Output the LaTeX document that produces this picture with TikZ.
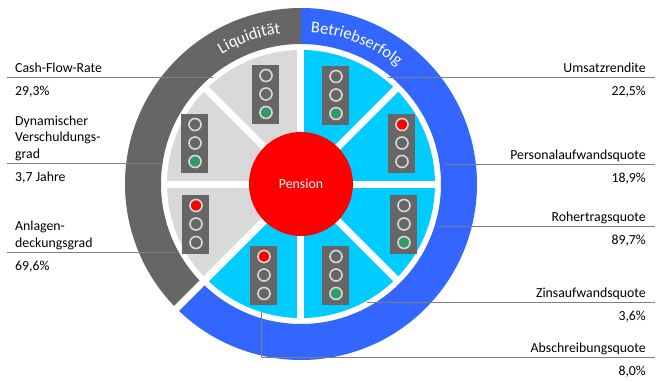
\documentclass[tikz,border=0pt]{standalone}
\usepackage{fontspec}
\setmainfont{Carlito}
\usetikzlibrary{decorations.text}

\definecolor{ringgrau}{RGB}{102,102,102}
\definecolor{ringblau}{RGB}{51,102,255}
\definecolor{segmentgrau}{RGB}{217,217,217}
\definecolor{segmentcyan}{RGB}{0,204,255}
\definecolor{ampelgrau}{RGB}{102,102,102}
\definecolor{lampenring}{RGB}{217,217,217}
\definecolor{ampelrot}{RGB}{255,0,0}
\definecolor{ampelgruen}{RGB}{51,153,102}
\definecolor{liniengrau}{RGB}{127,127,127}

\newcommand{\lblfont}{\fontsize{13.8}{16.5}\selectfont}
\newcommand{\ringfont}{\fontsize{16.5}{19}\selectfont\color{white}}

% Ampel: Name, Position, oben, mitte, unten
\newcommand{\ampel}[5]{%
  \node[ampelkasten] (#1) at #2 {};
  \node[lampe, fill=#3] (#1-o) at ([yshift=18.5]#1.center) {};
  \node[lampe, fill=#4] (#1-m) at (#1.center) {};
  \node[lampe, fill=#5] (#1-u) at ([yshift=-18.5]#1.center) {};
}

\begin{document}
\begin{tikzpicture}[x=1pt, y=1pt,
  ring/.style={line width=36},
  trenner/.style={draw=white, line width=7},
  ampelkasten/.style={rectangle, fill=ampelgrau, minimum width=27, minimum height=59, inner sep=0},
  lampe/.style={circle, draw=lampenring, line width=1.6, minimum size=12, inner sep=0},
  pension/.style={circle, fill=ampelrot, minimum size=104, inner sep=0, text=white, font=\lblfont},
  leader/.style={draw=liniengrau, line width=1},
  lbl/.style={font=\lblfont, inner sep=0}]
\useasboundingbox (-301,-197) rectangle (361,184);

% aeusserer Ring
\draw[ring, draw=ringgrau] (90:158) arc[start angle=90, end angle=225, radius=158];
\draw[ring, draw=ringblau] (225:158) arc[start angle=225, end angle=450, radius=158];
\path[decorate, decoration={text along path, text align=center, text={|\ringfont|Liquidität}}]
  (131.5:152) arc[start angle=131.5, end angle=87.5, radius=152];
\path[decorate, decoration={text along path, text align=center, text={|\ringfont|Betriebserfolg}}]
  (91:152) arc[start angle=91, end angle=46, radius=152];

% Segmente
\fill[segmentgrau] (0,0) -- (90:134) arc[start angle=90, end angle=225, radius=134] -- cycle;
\fill[segmentcyan] (0,0) -- (225:134) arc[start angle=225, end angle=450, radius=134] -- cycle;
\foreach \w in {0,45,...,315}
  \draw[trenner] (0,0) -- (\w:134);
\draw[trenner] (0,0) -- (225:182);

% Ampeln
\ampel{cfr}{(-35,90)}{ampelgrau}{ampelgrau}{ampelgruen}
\ampel{usr}{(35,89)}{ampelgrau}{ampelgrau}{ampelgruen}
\ampel{paq}{(101,41)}{ampelrot}{ampelgrau}{ampelgrau}
\ampel{dvg}{(-106,41)}{ampelgrau}{ampelgrau}{ampelgruen}
\ampel{adg}{(-105,-40)}{ampelrot}{ampelgrau}{ampelgrau}
\ampel{asq}{(-37,-91)}{ampelrot}{ampelgrau}{ampelgrau}
\ampel{zaq}{(35,-91)}{ampelgrau}{ampelgrau}{ampelgruen}
\ampel{rtq}{(103,-40)}{ampelgrau}{ampelgrau}{ampelgruen}

\node[pension] (pension) at (0,0) {Pension};

% Beschriftungen links
\coordinate (cfr-a) at (-294,107);
\coordinate (cfr-b) at (-88,107);
\draw[leader] (cfr-a) -- (cfr-b);
\node[lbl, anchor=base west] (cfr-name) at ([shift={(8,5)}]cfr-a) {Cash-Flow-Rate};
\node[lbl, anchor=base west] (cfr-wert) at ([shift={(8,-18)}]cfr-a) {29,3\%};

\coordinate (dvg-a) at (-294,21);
\coordinate (dvg-b) at (-138,21);
\draw[leader] (dvg-a) -- (dvg-b);
\node[lbl, anchor=south west, align=left] (dvg-name) at ([shift={(8,2)}]dvg-a) {Dynamischer\\Verschuldungs-\\grad};
\node[lbl, anchor=base west] (dvg-wert) at ([shift={(8,-18)}]dvg-a) {3,7 Jahre};

\coordinate (adg-a) at (-294,-68);
\coordinate (adg-b) at (-126,-68);
\draw[leader] (adg-a) -- (adg-b);
\node[lbl, anchor=south west, align=left] (adg-name) at ([shift={(8,2)}]adg-a) {Anlagen-\\deckungsgrad};
\node[lbl, anchor=base west] (adg-wert) at ([shift={(8,-18)}]adg-a) {69,6\%};

% Beschriftungen rechts
\coordinate (usr-a) at (87,107);
\coordinate (usr-b) at (354,107);
\draw[leader] (usr-a) -- (usr-b);
\node[lbl, anchor=base east] (usr-name) at ([shift={(-9,5)}]usr-b) {Umsatzrendite};
\node[lbl, anchor=base east] (usr-wert) at ([shift={(-9,-18)}]usr-b) {22,5\%};

\coordinate (paq-a) at (144,20);
\coordinate (paq-b) at (354,20);
\draw[leader] (paq-a) -- (paq-b);
\node[lbl, anchor=base east] (paq-name) at ([shift={(-9,5)}]paq-b) {Personalaufwandsquote};
\node[lbl, anchor=base east] (paq-wert) at ([shift={(-9,-18)}]paq-b) {18,9\%};

\coordinate (rtq-a) at (137,-42);
\coordinate (rtq-b) at (354,-42);
\draw[leader] (rtq-a) -- (rtq-b);
\node[lbl, anchor=base east] (rtq-name) at ([shift={(-9,5)}]rtq-b) {Rohertragsquote};
\node[lbl, anchor=base east] (rtq-wert) at ([shift={(-9,-18)}]rtq-b) {89,7\%};

\coordinate (zaq-a) at (66,-118);
\coordinate (zaq-b) at (354,-118);
\draw[leader] (zaq-a) -- (zaq-b);
\node[lbl, anchor=base east] (zaq-name) at ([shift={(-9,5)}]zaq-b) {Zinsaufwandsquote};
\node[lbl, anchor=base east] (zaq-wert) at ([shift={(-9,-18)}]zaq-b) {3,6\%};

\coordinate (asq-a) at (-39,-128);
\coordinate (asq-b) at (354,-173);
\draw[leader] (asq-a) |- (asq-b);
\node[lbl, anchor=base east] (asq-name) at ([shift={(-9,5)}]asq-b) {Abschreibungsquote};
\node[lbl, anchor=base east] (asq-wert) at ([shift={(-9,-18)}]asq-b) {8,0\%};
\end{tikzpicture}
\end{document}
